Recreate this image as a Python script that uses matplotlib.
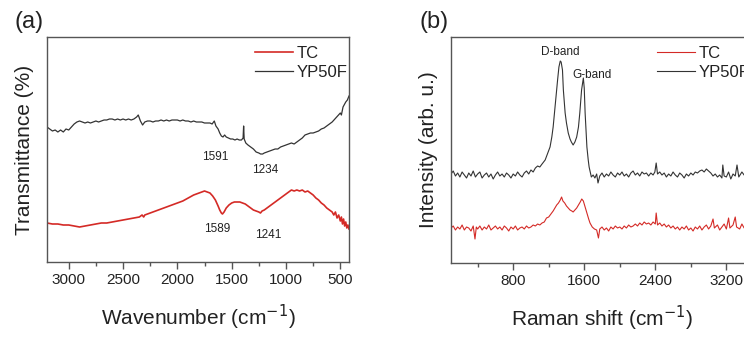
import matplotlib
matplotlib.use("Agg")
import matplotlib.pyplot as plt
from matplotlib.ticker import MultipleLocator

plt.rcParams['font.family'] = ['Liberation Sans', 'DejaVu Sans']

# ---------------- FTIR (a) ----------------
ftir_black_wn = [3200, 3175, 3150, 3125, 3100, 3075, 3050, 3025, 3000, 2975, 2950, 2925, 2900, 2875,
                 2850, 2825, 2800, 2775, 2750, 2725, 2700, 2675, 2650, 2625, 2600, 2575, 2550, 2525,
                 2500, 2475, 2450, 2425, 2400, 2375, 2360, 2340, 2320, 2300, 2275, 2250, 2225, 2200,
                 2175, 2150, 2125, 2100, 2075, 2050, 2025, 2000, 1975, 1950, 1925, 1900, 1875, 1850,
                 1825, 1800, 1775, 1750, 1725, 1700, 1680, 1660, 1645, 1625, 1610, 1595, 1580, 1565,
                 1550, 1530, 1510, 1490, 1470, 1450, 1430, 1410, 1395, 1390, 1385, 1370, 1350, 1325,
                 1300, 1275, 1250, 1234, 1215, 1200, 1175, 1150, 1125, 1100, 1075, 1050, 1025, 1000,
                 975, 950, 925, 900, 875, 850, 825, 800, 775, 750, 725, 700, 675, 650, 625, 600, 575,
                 550, 525, 500, 490, 475, 460, 450, 435, 420]
ftir_black = [135, 133, 131, 132, 130, 132, 130, 133, 132, 135, 138, 140, 141, 140,
              139, 140, 139, 140, 141, 140, 141, 142, 142, 143, 143, 142, 143, 142,
              143, 142, 143, 142, 143, 145, 147, 141, 137, 140, 141, 141, 140, 141,
              141, 142, 141, 142, 141, 142, 142, 142, 141, 142, 141, 141, 140, 141,
              140, 140, 140, 139, 139, 139, 138, 141, 136, 133, 129, 126, 125, 127,
              125, 124, 123, 123, 122, 123, 122, 122, 124, 136, 123, 119, 117, 115,
              113, 110, 109, 108, 108, 109, 110, 111, 112, 113, 113, 115, 116, 117,
              118, 119, 118, 120, 122, 124, 127, 128, 129, 129, 130, 131, 133, 134, 136, 138, 140,
              143, 146, 149, 147, 155, 158, 160, 162, 166]

ftir_red_wn = [3200, 3150, 3100, 3050, 3000, 2950, 2900, 2850, 2800, 2750, 2700, 2650, 2600, 2550,
               2500, 2450, 2400, 2350, 2325, 2310, 2300, 2250, 2200, 2150, 2100, 2050, 2000, 1950,
               1900, 1850, 1800, 1775, 1750, 1725, 1700, 1675, 1650, 1625, 1610, 1595, 1585, 1570,
               1550, 1525, 1500, 1475, 1450, 1425, 1400, 1375, 1350, 1325, 1300, 1275, 1250, 1235,
               1220, 1200, 1175, 1150, 1125, 1100, 1075, 1050, 1025, 1000, 975, 950, 925, 900, 875,
               850, 825, 800, 775, 750, 725, 700, 675, 650, 625, 600, 575, 560, 545, 530, 515, 500,
               490, 480, 470, 460, 450, 440, 430, 420]
ftir_red = [39, 38, 38, 37, 37, 36, 35, 36, 37, 38, 39, 39, 40, 41,
            42, 43, 44, 45, 47, 45, 47, 49, 51, 53, 55, 57, 59, 61,
            64, 67, 69, 70, 71, 70, 69, 66, 62, 56, 52, 49, 48, 50,
            54, 57, 59, 60, 60, 60, 59, 58, 56, 54, 52, 51, 50, 49,
            51, 52, 54, 56, 58, 60, 62, 64, 66, 68, 70, 72, 71, 72, 71,
            72, 70, 71, 69, 67, 64, 62, 59, 57, 54, 52, 50, 47, 50, 44, 47, 41,
            45, 38, 43, 36, 40, 34, 37, 33]

ftir_ticks = [3000, 2500, 2000, 1500, 1000, 500]
ftir_notes = [("1591", 1653, 105), ("1234", 1193, 92), ("1589", 1635, 33), ("1241", 1165, 27)]

# ---------------- Raman (b) ----------------
raman_black_x = [100, 125, 150, 175, 200, 225, 250, 275, 300, 325, 350, 375, 400, 425, 450, 475, 500,
                 525, 550, 575, 600, 625, 650, 675, 700, 725, 750, 775, 800, 825, 850, 875, 900, 925,
                 950, 975, 1000, 1025, 1050, 1075, 1100, 1125, 1160, 1190, 1215, 1235, 1250, 1270,
                 1285, 1300, 1315, 1330, 1340, 1355, 1365, 1385, 1400, 1420, 1440, 1455, 1475, 1495,
                 1515, 1535, 1550, 1570, 1590, 1600, 1610, 1620, 1630, 1645, 1655, 1680, 1700, 1720,
                 1740, 1755, 1775, 1800, 1825, 1850, 1875, 1900, 1925, 1950, 1975, 2000, 2025, 2050,
                 2075, 2100, 2125, 2150, 2175, 2200, 2225, 2250, 2275, 2300, 2325, 2350, 2375, 2395,
                 2410, 2425, 2450, 2475, 2500, 2525, 2550, 2575, 2600, 2625, 2650, 2675, 2700, 2725,
                 2750, 2775, 2800, 2825, 2850, 2875, 2900, 2925, 2950, 2975, 3000, 3025, 3050, 3075,
                 3100, 3125, 3150, 3160, 3175, 3200, 3225, 3250, 3275, 3300, 3320, 3340, 3375, 3400,
                 3425, 3450, 3475, 3500]
raman_black = [89, 92, 87, 90, 86, 91, 88, 85, 90, 87, 92, 86, 89, 91, 85, 88, 90,
               86, 89, 84, 88, 91, 87, 89, 86, 90, 88, 85, 89, 87, 91, 88, 86, 90,
               92, 89, 93, 91, 95, 97, 96, 99, 103, 110, 116, 126, 136, 155,
               170, 183, 196, 202, 201, 193, 173, 150, 140, 130, 124, 121, 118, 121,
               126, 136, 150, 173, 185, 175, 150, 132, 116, 103, 96, 86, 88, 85,
               89, 80, 87, 90, 86, 89, 87, 91, 88, 86, 90, 88, 91, 87,
               89, 86, 90, 92, 88, 90, 87, 91, 89, 90, 87, 90, 88, 91,
               100, 89, 91, 88, 90, 86, 89, 87, 91, 88, 86, 90, 88, 85,
               89, 87, 90, 88, 91, 90, 92, 93, 91, 94, 92, 90, 87, 89,
               86, 88, 85, 98, 87, 86, 91, 84, 89, 87, 98, 86, 91, 88,
               85, 90, 87, 89]

raman_red_x = [100, 125, 150, 175, 200, 225, 250, 275, 300, 325, 350, 370, 385, 400, 425, 450, 475,
               500, 525, 550, 575, 600, 625, 650, 675, 700, 725, 750, 775, 800, 825, 850, 875, 900,
               925, 950, 975, 1000, 1025, 1050, 1075, 1100, 1125, 1150, 1175, 1200, 1225, 1250, 1270,
               1290, 1310, 1330, 1345, 1360, 1380, 1400, 1420, 1440, 1460, 1475, 1495, 1515, 1535,
               1555, 1572, 1590, 1610, 1630, 1650, 1665, 1690, 1715, 1740, 1760, 1775, 1800, 1825,
               1850, 1875, 1900, 1925, 1950, 1975, 2000, 2025, 2050, 2075, 2100, 2125, 2150, 2175,
               2200, 2225, 2250, 2275, 2300, 2325, 2350, 2375, 2400, 2410, 2425, 2450, 2475, 2500,
               2525, 2550, 2575, 2600, 2625, 2650, 2675, 2700, 2725, 2750, 2775, 2800, 2825, 2850,
               2875, 2900, 2925, 2950, 2975, 3000, 3025, 3050, 3065, 3100, 3125, 3150, 3175, 3200,
               3225, 3240, 3275, 3300, 3315, 3350, 3375, 3400, 3425, 3450, 3475, 3500]
raman_red = [35, 37, 33, 36, 34, 38, 33, 36, 35, 32, 37, 24, 36, 34, 37, 33, 36,
             34, 38, 33, 35, 37, 34, 36, 33, 37, 35, 32, 36, 34, 37, 33, 35, 36,
             34, 37, 35, 36, 38, 37, 39, 38, 40, 41, 45, 46, 49, 52, 55,
             58, 60, 63, 66, 62, 60, 57, 55, 53, 52, 51, 53, 55, 58,
             61, 64, 62, 56, 50, 44, 40, 36, 34, 33, 25, 34, 36, 33,
             35, 32, 36, 34, 37, 35, 36, 34, 37, 35, 38, 36, 37, 39,
             37, 40, 38, 41, 39, 40, 38, 41, 39, 50, 38, 40, 37, 39,
             36, 38, 35, 37, 34, 36, 33, 36, 34, 37, 33, 35, 32, 36,
             34, 37, 33, 36, 38, 34, 37, 44, 35, 38, 33, 36, 39, 34,
             45, 35, 38, 46, 36, 34, 39, 35, 37, 34, 38, 36]

raman_ticks = [800, 1600, 2400, 3200]
raman_notes = [("D-band", 1330, 211), ("G-band", 1690, 188)]

RED = "#d42a26"
BLACK = "#333333"
SPINE = "#555555"

fig = plt.figure(figsize=(7.44, 3.38), dpi=100)
W, H = 744.0, 338.0
ax1 = fig.add_axes([47 / W, (H - 262) / H, 302 / W, 225 / H])
ax2 = fig.add_axes([451 / W, (H - 263) / H, 302 / W, 226 / H])

ax1.plot(ftir_red_wn, ftir_red, color=RED, lw=1.2, label="TC")
ax1.plot(ftir_black_wn, ftir_black, color=BLACK, lw=0.9, label="YP50F")
ax1.set_xlim(3200, 420)
ax1.set_ylim(0, 225)
ax1.set_xticks(ftir_ticks)
ax1.xaxis.set_minor_locator(MultipleLocator(250))
for txt, x, y in ftir_notes:
    ax1.text(x, y, txt, ha="center", va="center", fontsize=8.5, color="#222222")
ax1.set_xlabel("Wavenumber (cm$^{-1}$)", fontsize=15, color="#222222", labelpad=11)
ax1.set_ylabel("Transmittance (%)", fontsize=15, color="#222222", labelpad=9)

ax2.plot(raman_red_x, raman_red, color=RED, lw=0.8, label="TC")
ax2.plot(raman_black_x, raman_black, color=BLACK, lw=0.8, label="YP50F")
ax2.set_xlim(100, 3500)
ax2.set_ylim(0, 226)
ax2.set_xticks(raman_ticks)
ax2.xaxis.set_minor_locator(MultipleLocator(400))
for txt, x, y in raman_notes:
    ax2.text(x, y, txt, ha="center", va="center", fontsize=8.5, color="#222222")
ax2.set_xlabel("Raman shift (cm$^{-1}$)", fontsize=15, color="#222222", labelpad=11)
ax2.set_ylabel("Intensity (arb. u.)", fontsize=15, color="#222222", labelpad=9)

for ax, lx in [(ax1, 0.689), (ax2, 0.682)]:
    ax.set_yticks([])
    for s in ax.spines.values():
        s.set_color(SPINE)
        s.set_linewidth(1.0)
    ax.tick_params(axis="x", which="major", direction="out", length=5, width=1,
                   color=SPINE, labelsize=11, labelcolor="#222222", pad=3)
    ax.tick_params(axis="x", which="minor", direction="out", length=3, width=1, color=SPINE)
    ax.legend(loc="upper left", bbox_to_anchor=(lx, 0.96), frameon=False, fontsize=12,
              handlelength=2.3, handletextpad=0.2, borderpad=0, borderaxespad=0,
              labelspacing=0.25, labelcolor="#222222")

fig.text(14 / W, 1 - 22 / H, "(a)", fontsize=17, va="center", ha="left", color="#222222")
fig.text(419 / W, 1 - 22 / H, "(b)", fontsize=17, va="center", ha="left", color="#222222")

fig.savefig("out.png", dpi=100)
